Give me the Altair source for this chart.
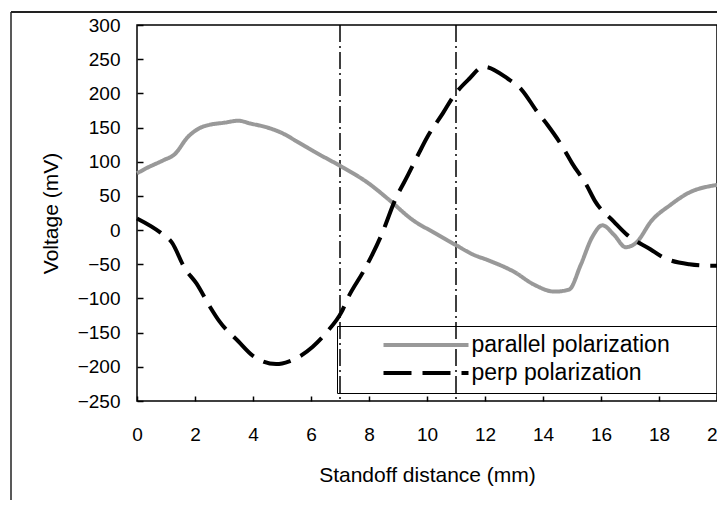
import altair as alt
import pandas as pd

# ---- data ----
series_names = ["parallel polarization", "perp polarization"]

par_x = [0, 0.3, 0.9, 1.3, 1.75, 2.15, 2.5, 3, 3.5, 3.9, 4.5, 5, 5.5, 6.1, 7, 8, 8.7,
         9.5, 10.3, 11, 11.6, 12.1, 13, 13.7, 14.4, 14.9, 15.3, 15.7, 16.05, 16.45,
         16.85, 17.2, 17.75, 18.4, 19, 20]
par_v = [83, 90, 102, 111, 136, 149, 154, 157, 160, 156, 150, 142, 130, 115, 94, 68, 44,
         15, -5, -22, -36, -44, -61, -80, -90, -87, -51, -10, 7, -7,
         -25, -19, 14, 37, 54, 66]

perp_x = [0, 0.85, 1.2, 1.65, 2.05, 2.5, 2.85, 3.5, 4, 4.8, 5.25, 6.05, 6.55, 7.05, 7.3,
          7.8, 8.1, 8.45, 8.9, 9.35, 9.75, 10.05, 10.55, 10.9, 11.45, 11.95, 12.8, 13.25,
          13.8, 14.15, 14.7, 15, 15.5, 15.8, 16.45, 16.9, 17.7, 18.15, 19.05, 19.7, 20]
perp_v = [17, -5, -18, -56, -78, -111, -134, -163, -184, -196, -192, -171, -149, -120, -97,
          -61, -37, -5, 44, 81, 115, 139, 171, 195, 221, 239, 221, 206,
          173, 154, 120, 98, 66, 42, 12, -7, -28, -40, -50, -52, -52]

marker_x = [7, 11]
x_ticks = list(range(0, 21, 2))
y_ticks = list(range(-250, 301, 50))

df = pd.concat([
    pd.DataFrame({"x": par_x, "v": par_v, "s": series_names[0]}),
    pd.DataFrame({"x": perp_x, "v": perp_v, "s": series_names[1]}),
], ignore_index=True)

FONT = "Liberation Sans"
xs = alt.Scale(domain=[0, 20], nice=False, zero=False)
ys = alt.Scale(domain=[-250, 300], nice=False, zero=False)

# trailing blank padding so the legend frame runs past the right edge, as in the reference
PAD = "\u00a0" * 12 + "\u200b"

leg = dict(
    orient="none", legendX=200, legendY=301, title=None,
    symbolType="stroke", symbolSize=7225, symbolStrokeWidth=4,
    clipHeight=23, rowPadding=4, padding=7.5,
    symbolOffset=37, labelOffset=1, labelLimit=800,
    labelFont=FONT, labelFontSize=23, labelColor="black",
    labelExpr="datum.label + '" + PAD + "'",
    strokeColor="black", fillColor="transparent",
)

one = pd.DataFrame({"k": [1]})
frame_top = alt.Chart(one).mark_rule(color="#222222", strokeWidth=2, orient="horizontal").encode(
    x=alt.value(-126), x2=alt.value(700), y=alt.value(-13), y2=alt.value(-13)
)
frame_left = alt.Chart(one).mark_rule(color="#222222", strokeWidth=1.5).encode(
    x=alt.value(-126), y=alt.value(-13), y2=alt.value(600)
)

rules = alt.Chart(pd.DataFrame({"m": marker_x})).mark_rule(
    color="black", strokeWidth=1.5, strokeDash=[17, 4, 2, 4]
).encode(x=alt.X("m:Q", scale=xs))

lines = alt.Chart(df).mark_line(strokeWidth=4, interpolate="monotone").encode(
    x=alt.X("x:Q", scale=xs, axis=alt.Axis(
        values=x_ticks, title="Standoff distance (mm)", offset=-5, tickSize=5,
        labelPadding=24, titleY=85, titleBaseline="alphabetic")),
    y=alt.Y("v:Q", scale=ys, axis=alt.Axis(
        values=y_ticks, title="Voltage (mV)", offset=-6, tickSize=6,
        labelPadding=17, titleX=-86, titleBaseline="alphabetic")),
    color=alt.Color("s:N", scale=alt.Scale(domain=series_names, range=["#999999", "#000000"]),
                    legend=alt.Legend(**leg)),
    strokeDash=alt.StrokeDash("s:N", scale=alt.Scale(domain=series_names, range=[[1, 0], [28, 11]]),
                              legend=alt.Legend(**leg)),
)

chart = alt.layer(frame_top, frame_left, rules, lines).properties(
    width=580, height=376,
    autosize=alt.AutoSizeParams(type="none"),
    padding={"left": 129, "top": 17, "right": 0, "bottom": 99},
).configure_view(
    stroke="black", strokeWidth=1.5
).configure_axis(
    domain=False, grid=False, ticks=True, tickColor="black", tickWidth=1.5,
    labelFont=FONT, labelFontSize=19, labelColor="black",
    titleFont=FONT, titleFontSize=21, titleColor="black", titleFontWeight="normal",
).configure_axisX(labelFlush=False).configure_axisY(labelFlush=False)

chart.save("out.html", embed_options={"renderer": "svg", "actions": False})
